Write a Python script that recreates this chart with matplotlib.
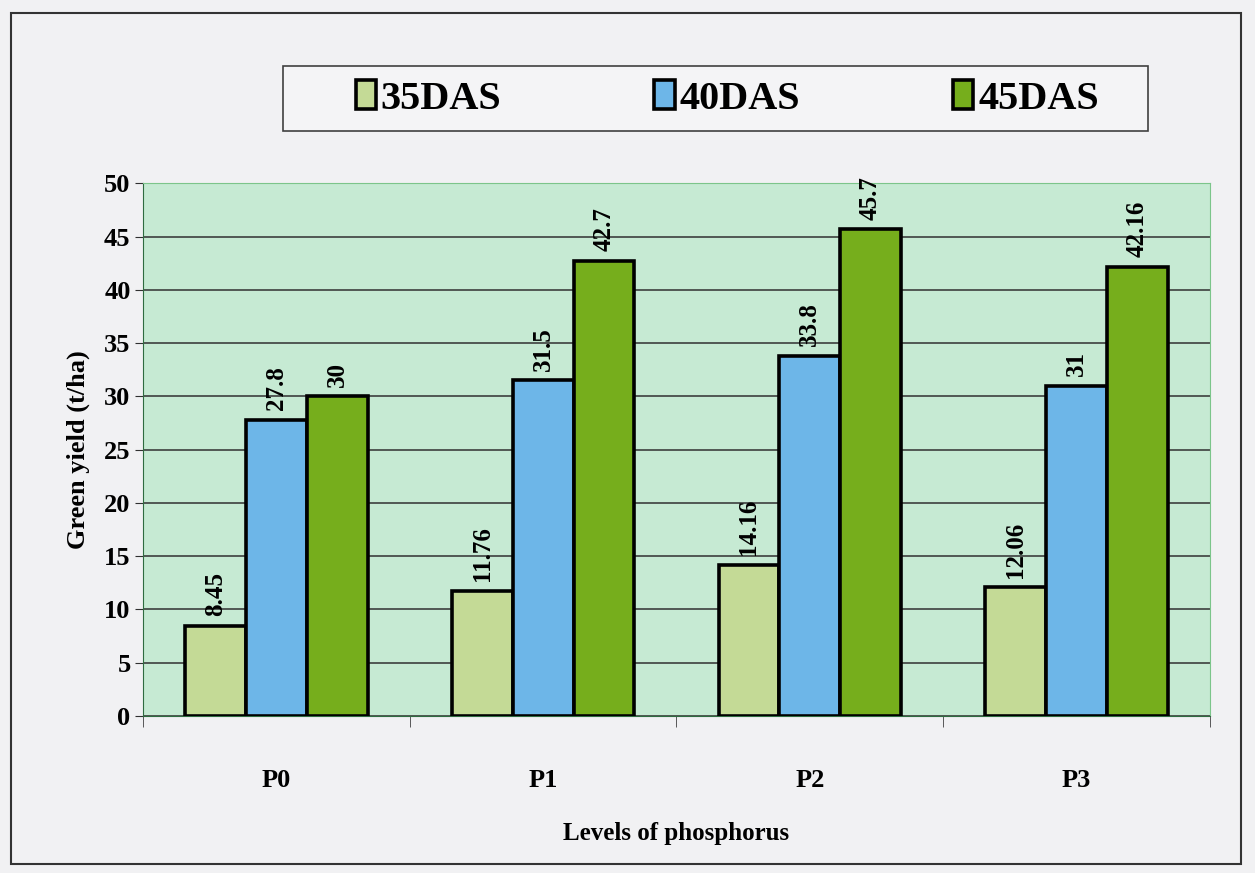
import matplotlib.pyplot as plt
import numpy as np

# data
levels = ["P0", "P1", "P2", "P3"]
series = ["35DAS", "40DAS", "45DAS"]
das35 = [8.45, 11.76, 14.16, 12.06]
das40 = [27.8, 31.5, 33.8, 31.0]
das45 = [30.0, 42.7, 45.7, 42.16]
labels35 = ["8.45", "11.76", "14.16", "12.06"]
labels40 = ["27.8", "31.5", "33.8", "31"]
labels45 = ["30", "42.7", "45.7", "42.16"]

colors = ["#c4da96", "#6db6e8", "#76ae1c"]

plt.rcParams["font.family"] = ["Liberation Serif", "DejaVu Serif"]
plt.rcParams["font.weight"] = "bold"

fig = plt.figure(figsize=(12.55, 8.73), dpi=100, facecolor="#f1f1f3")
ax = fig.add_axes([0.114, 0.180, 0.850, 0.610])
ax.set_facecolor("#c6ead3")

x = np.arange(len(levels))
w = 0.228
allvals = [das35, das40, das45]
alllabels = [labels35, labels40, labels45]
for k in range(3):
    pos = x + (k - 1) * w
    ax.bar(pos, allvals[k], w, color=colors[k], edgecolor="black",
           linewidth=2.6, label=series[k], zorder=3)
    for p, v, t in zip(pos, allvals[k], alllabels[k]):
        ax.text(p, v + 0.9, t, rotation=90, ha="center", va="bottom",
                fontsize=18, fontweight="bold", zorder=4)

ax.set_xlim(-0.5, 3.5)
ax.set_ylim(0, 50)
ax.set_yticks(np.arange(0, 51, 5))
ax.yaxis.grid(True, color="#303030", linewidth=1.1, zorder=1)
ax.set_axisbelow(True)
ax.tick_params(axis="y", labelsize=19, length=6, color="#303030", pad=3)
for lab in ax.get_yticklabels():
    lab.set_fontweight("bold")

ax.set_xticks(x)
ax.set_xticklabels(levels, fontsize=19, fontweight="bold")
ax.set_xticks(np.arange(-0.5, 4.0, 1.0), minor=True)
ax.tick_params(axis="x", which="major", length=0, pad=38)
ax.tick_params(axis="x", which="minor", length=8, color="#404040")

for s in ["top", "right"]:
    ax.spines[s].set_color("#7cc58a")
ax.spines["left"].set_color("#2f6b40")
ax.spines["bottom"].set_color("#2f6b40")

ax.set_ylabel("Green yield (t/ha)", fontsize=19, fontweight="bold", labelpad=10)
ax.set_xlabel("Levels of phosphorus", fontsize=18, fontweight="bold", labelpad=22)

# legend box drawn by hand so the padding can be wider than the entries
fig.patches.append(plt.Rectangle((0.2255, 0.850), 0.689, 0.0745, transform=fig.transFigure,
                                 facecolor="#f4f4f6", edgecolor="#404040", linewidth=1.2))
leg = fig.legend(loc="center", bbox_to_anchor=(0.5795, 0.887), ncol=3,
                 fontsize=29, frameon=False,
                 handlelength=0.5, handleheight=0.75, handletextpad=0.12,
                 columnspacing=3.8, borderpad=0, borderaxespad=0)
for t in leg.get_texts():
    t.set_fontweight("bold")

# outer chart border
fig.patches.append(plt.Rectangle((0.009, 0.01), 0.98, 0.975, transform=fig.transFigure,
                                 fill=False, edgecolor="#333333", linewidth=1.5))

fig.savefig("out.png", dpi=100, facecolor=fig.get_facecolor())
